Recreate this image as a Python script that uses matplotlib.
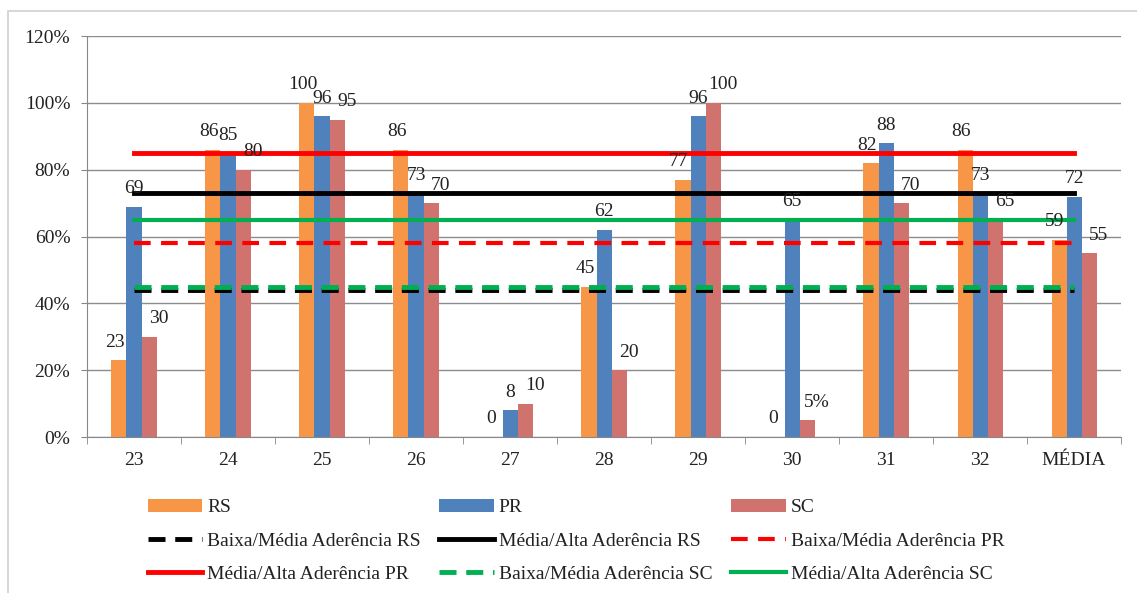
import numpy as np
import matplotlib.pyplot as plt
from matplotlib.patches import Rectangle

plt.rcParams['font.family'] = ['Liberation Serif', 'DejaVu Serif']

categories = ['23', '24', '25', '26', '27', '28', '29', '30', '31', '32', 'MÉDIA']
rs = [23, 86, 100, 86, 0, 45, 77, 0, 82, 86, 59]
pr = [69, 85, 96, 73, 8, 62, 96, 65, 88, 73, 72]
sc = [30, 80, 95, 70, 10, 20, 100, 5, 70, 65, 55]
sc_text = ['30', '80', '95', '70', '10', '20', '100', '5%', '70', '65', '55']

# faixas de aderência (%)
baixa_media_rs = 44
media_alta_rs = 73
baixa_media_pr = 58
media_alta_pr = 85
baixa_media_sc = 45
media_alta_sc = 65

c_rs = '#F79646'
c_pr = '#4F81BD'
c_sc = '#D0736F'
fs = 14

fig = plt.figure(figsize=(11.37, 5.93), dpi=100)
ax = fig.add_axes([0.0765, 0.263, 0.9095, 0.676])

# moldura externa
fig.patches.append(Rectangle((8 / 1137, -0.01), 1.0, 1 - 11 / 593 + 0.01,
                             transform=fig.transFigure, fill=False,
                             edgecolor='#d0d0d0', linewidth=1.2))

x = np.arange(len(categories))
w = 0.16
ax.bar(x - w, rs, w, color=c_rs, label='RS', zorder=2)
ax.bar(x, pr, w, color=c_pr, label='PR', zorder=2)
ax.bar(x + w, sc, w, color=c_sc, label='SC', zorder=2)

n = len(x)
ax.plot(x, [baixa_media_rs] * n, color='black', lw=3.5, dashes=(3.5, 2), zorder=3,
        label='Baixa/Média Aderência RS')
ax.plot(x, [media_alta_rs] * n, color='black', lw=3.5, zorder=3,
        label='Média/Alta Aderência RS')
ax.plot(x, [baixa_media_pr] * n, color='#FF0000', lw=3, dashes=(4, 2.5), zorder=3,
        label='Baixa/Média Aderência PR')
ax.plot(x, [media_alta_pr] * n, color='#FF0000', lw=3.5, zorder=3,
        label='Média/Alta Aderência PR')
ax.plot(x, [baixa_media_sc] * n, color='#00B050', lw=3.5, dashes=(3.5, 2), zorder=3,
        label='Baixa/Média Aderência SC')
ax.plot(x, [media_alta_sc] * n, color='#00B050', lw=3, zorder=3,
        label='Média/Alta Aderência SC')

# rótulos de valor
for i in range(n):
    ax.annotate(str(rs[i]), (x[i] - w, rs[i]), xytext=(-3, 13), textcoords='offset points',
                ha='center', va='center', fontsize=fs, color='#222222', zorder=4)
    ax.annotate(str(pr[i]), (x[i], pr[i]), xytext=(0, 13), textcoords='offset points',
                ha='center', va='center', fontsize=fs, color='#222222', zorder=4)
    ax.annotate(sc_text[i], (x[i] + w, sc[i]), xytext=(7, 13), textcoords='offset points',
                ha='center', va='center', fontsize=fs, color='#222222', zorder=4)

ax.set_xlim(-0.5, n - 0.5)
ax.set_ylim(0, 120)
ax.set_yticks(range(0, 121, 20))
ax.set_yticklabels([f'{v}%' for v in range(0, 121, 20)], fontsize=fs, color='#222222')
ax.set_xticks(x)
ax.set_xticklabels(categories, fontsize=fs, color='#222222')
ax.set_xticks(np.arange(-0.5, n, 1), minor=True)
ax.tick_params(axis='x', which='major', length=0, pad=11)
ax.tick_params(axis='x', which='minor', length=5, color='#888888', direction='out')
ax.tick_params(axis='y', length=4, color='#888888', pad=8)

ax.grid(axis='y', color='#8c8c8c', lw=1, zorder=0)
ax.set_axisbelow(True)
for s in ['top', 'right']:
    ax.spines[s].set_visible(False)
for s in ['left', 'bottom']:
    ax.spines[s].set_color('#888888')

handles, labels = ax.get_legend_handles_labels()
order = ['RS', 'Baixa/Média Aderência RS', 'Média/Alta Aderência PR',
         'PR', 'Média/Alta Aderência RS', 'Baixa/Média Aderência SC',
         'SC', 'Baixa/Média Aderência PR', 'Média/Alta Aderência SC']
hmap = dict(zip(labels, handles))
fig.legend([hmap[k] for k in order], order, ncol=3, loc='upper left',
           bbox_to_anchor=(0.123, 0.172), frameon=False, fontsize=fs,
           labelcolor='#222222', handlelength=2.8, handletextpad=0.25,
           columnspacing=0.97, labelspacing=0.8, borderaxespad=0)

fig.savefig('out.png', dpi=100)
